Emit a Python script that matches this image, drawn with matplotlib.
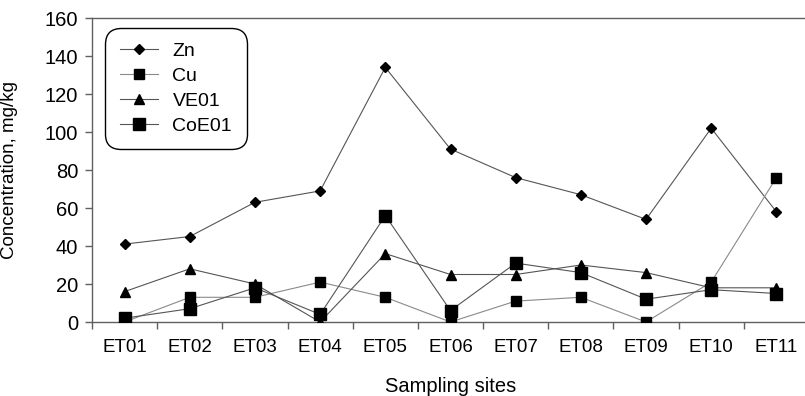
import matplotlib
matplotlib.use("Agg")
import matplotlib.pyplot as plt
import numpy as np

plt.rcParams['font.family'] = ['Liberation Sans', 'DejaVu Sans']

sites = ["ET01", "ET02", "ET03", "ET04", "ET05", "ET06", "ET07", "ET08", "ET09", "ET10", "ET11"]
zn = [41, 45, 63, 69, 134, 91, 76, 67, 54, 102, 58]
cu = [0, 13, 13, 21, 13, 0, 11, 13, 0, 21, 76]
ve01 = [16, 28, 20, 0, 36, 25, 25, 30, 26, 18, 18]
coe01 = [2, 7, 18, 4, 56, 6, 31, 26, 12, 17, 15]
yticks = [0, 20, 40, 60, 80, 100, 120, 140, 160]

W, H = 805, 396
fig = plt.figure(figsize=(W / 100, H / 100), dpi=100)
left, right, top, bottom = 92, 809, 18, 322
ax = fig.add_axes([left / W, 1 - bottom / H, (right - left) / W, (bottom - top) / H])

x = np.arange(len(sites))
lc_dark = '#555555'
lc_gray = '#8a8a8a'
ax.plot(x, zn, color=lc_dark, lw=0.8, marker='D', ms=5.0, mfc='black', mec='black', label='Zn', zorder=3)
ax.plot(x, cu, color=lc_gray, lw=0.8, marker='s', ms=7.0, mfc='black', mec='black', label='Cu', zorder=3)
ax.plot(x, ve01, color=lc_dark, lw=0.8, marker='^', ms=7.5, mfc='black', mec='black', label='VE01', zorder=3)
ax.plot(x, coe01, color=lc_dark, lw=0.8, marker='s', ms=8.0, mfc='black', mec='black', label='CoE01', zorder=3)

ax.set_xlim(-0.5, len(sites) - 0.5)
ax.set_ylim(0, 160)
ax.set_yticks(yticks)
ax.set_xticks(x)
ax.set_xticklabels(sites)
ax.set_xticks(np.arange(-0.5, len(sites), 1.0), minor=True)

spine_c = '#606060'
for s in ['left', 'bottom', 'top']:
    ax.spines[s].set_color(spine_c)
    ax.spines[s].set_linewidth(1.0)
ax.spines['right'].set_visible(False)

ax.tick_params(axis='y', direction='out', length=5, width=1, color=spine_c, labelsize=14.5, pad=5)
ax.tick_params(axis='x', which='major', length=0, labelsize=13.5, pad=12)
ax.tick_params(axis='x', which='minor', direction='out', length=5, width=1, color=spine_c)

ax.set_xlabel('Sampling sites', fontsize=14.5, labelpad=15)
ax.set_ylabel('Concentration, mg/kg', fontsize=13.5)
ax.yaxis.set_label_coords((18 - left) / (right - left), 0.5)

leg = ax.legend(loc='upper left', bbox_to_anchor=((105 - left) / (right - left), (bottom - 28) / (bottom - top)),
                fontsize=14, frameon=True, fancybox=True, edgecolor='black', framealpha=1,
                handlelength=2.0, handletextpad=0.72, labelspacing=0.37, borderpad=0.75, borderaxespad=0)
leg.get_frame().set_linewidth(1.0)
leg.get_frame().set_boxstyle('round', pad=0, rounding_size=0.8)

fig.savefig('out.png', dpi=100)
